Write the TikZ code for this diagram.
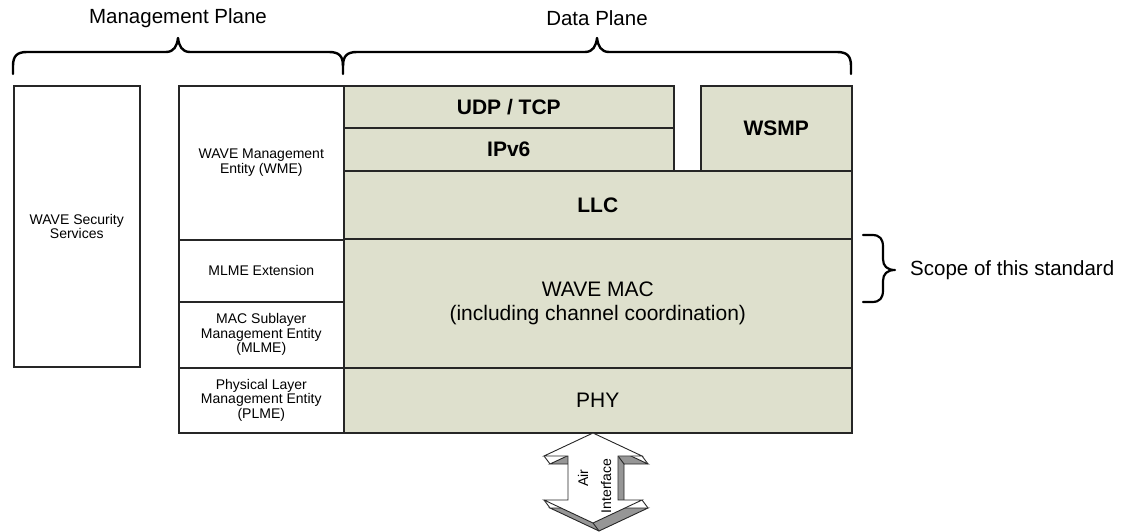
\documentclass[tikz,border=0pt]{standalone}
\usepackage{fontspec}
\setmainfont{Liberation Sans}
\definecolor{layerfill}{RGB}{222,224,205}
\definecolor{sidegray}{RGB}{150,150,150}
\tikzset{
  mgmtbox/.style={draw=black!85, line width=1.6pt, fill=white, inner sep=0pt,
    align=center, anchor=north west,
    font=\fontsize{14}{14.5}\selectfont},
  layerbox/.style={draw=black!85, line width=1.6pt, fill=layerfill, inner sep=0pt,
    align=center, anchor=north west,
    font=\bfseries\fontsize{21}{24}\selectfont},
  layerplain/.style={layerbox, font=\fontsize{21}{24}\selectfont},
  heading/.style={font=\fontsize{20.5}{24}\selectfont},
  bracket/.style={line width=2.4pt, black, line cap=round, line join=round},
  arrowedge/.style={draw=black!85, line width=0.9pt, line join=miter},
  smalltext/.style={font=\fontsize{14}{16}\selectfont, inner sep=0pt}
}
\begin{document}
\begin{tikzpicture}[x=1pt, y=-1pt]
\useasboundingbox (0,0) rectangle (1129,532);

% plane headings
\node[heading] (mplane) at (178,18) {Management Plane};
\node[heading] (dplane) at (597,18) {Data Plane};

% curly brackets over the two planes
\draw[bracket] (13,74) -- (13,66) .. controls (13,56) and (17,52) .. (27,52)
  -- (166,52) .. controls (174,52) and (177,46) .. (178,38)
  .. controls (179,46) and (182,52) .. (190,52)
  -- (329,52) .. controls (339,52) and (343,56) .. (343,66) -- (343,74);
\draw[bracket] (343,66) .. controls (343,56) and (347,52) .. (357,52)
  -- (585,52) .. controls (593,52) and (596,46) .. (597,38)
  .. controls (598,46) and (601,52) .. (609,52)
  -- (837,52) .. controls (847,52) and (851,56) .. (851,66) -- (851,74);

% security services column
\node[mgmtbox, minimum width=126, minimum height=281] (sec) at (13,85)
  {WAVE Security\\Services};

% management entities column
\node[mgmtbox, minimum width=165, minimum height=154] (wme) at (178,85)
  {WAVE Management\\Entity (WME)};
\node[mgmtbox, minimum width=165, minimum height=62] (mlmeext) at (178,239)
  {MLME Extension};
\node[mgmtbox, minimum width=165, minimum height=66] (mlme) at (178,301)
  {MAC Sublayer\\Management Entity\\(MLME)};
\node[mgmtbox, minimum width=165, minimum height=65] (plme) at (178,367)
  {Physical Layer\\Management Entity\\(PLME)};

% data plane layers
\node[layerbox, minimum width=330, minimum height=42] (udp) at (343,85) {UDP / TCP};
\node[layerbox, minimum width=330, minimum height=43] (ipv6) at (343,127) {IPv6};
\node[layerbox, minimum width=151, minimum height=85] (wsmp) at (700,85) {WSMP};
\node[layerbox, minimum width=508, minimum height=68] (llc) at (343,170) {LLC};
\node[layerplain, minimum width=508, minimum height=129] (mac) at (343,238)
  {WAVE MAC\\(including channel coordination)};
\node[layerplain, minimum width=508, minimum height=65] (phy) at (343,367) {PHY};

% scope bracket
\coordinate (scopetop) at (863,235);
\coordinate (scopebot) at (863,302);
\draw[bracket, line width=2.2pt] (scopetop) -- (872,235) .. controls (880,235) and (883,239) .. (883,247)
  -- (883,259) .. controls (883,266) and (887,270) .. (895,270)
  .. controls (887,270) and (883,274) .. (883,281)
  -- (883,290) .. controls (883,298) and (880,302) .. (872,302) -- (scopebot);
\node[heading, anchor=west, inner sep=0pt] (scope) at (910,270) {Scope of this standard};

% air interface: extruded double-headed arrow (back face, side edges, front face)
\begin{scope}[shift={(6,8)}]
  \filldraw[arrowedge, fill=sidegray] (593,433) -- (642,456) -- (618,456) -- (618,500) -- (642,500)
    -- (593,523) -- (544,500) -- (568,500) -- (568,456) -- (544,456) -- cycle;
\end{scope}
\foreach \px/\py in {544/456, 642/456, 618/456, 618/500, 642/500, 593/523, 544/500}
  \draw[arrowedge] (\px,\py) -- ++(6,8);
\filldraw[arrowedge, fill=white] (593,433) -- (642,456) -- (618,456) -- (618,500) -- (642,500)
  -- (593,523) -- (544,500) -- (568,500) -- (568,456) -- (544,456) -- cycle;
\node[smalltext, rotate=90] (air) at (583,478) {Air};
\node[smalltext, rotate=90] (iface) at (606,486) {Interface};
\end{tikzpicture}
\end{document}
